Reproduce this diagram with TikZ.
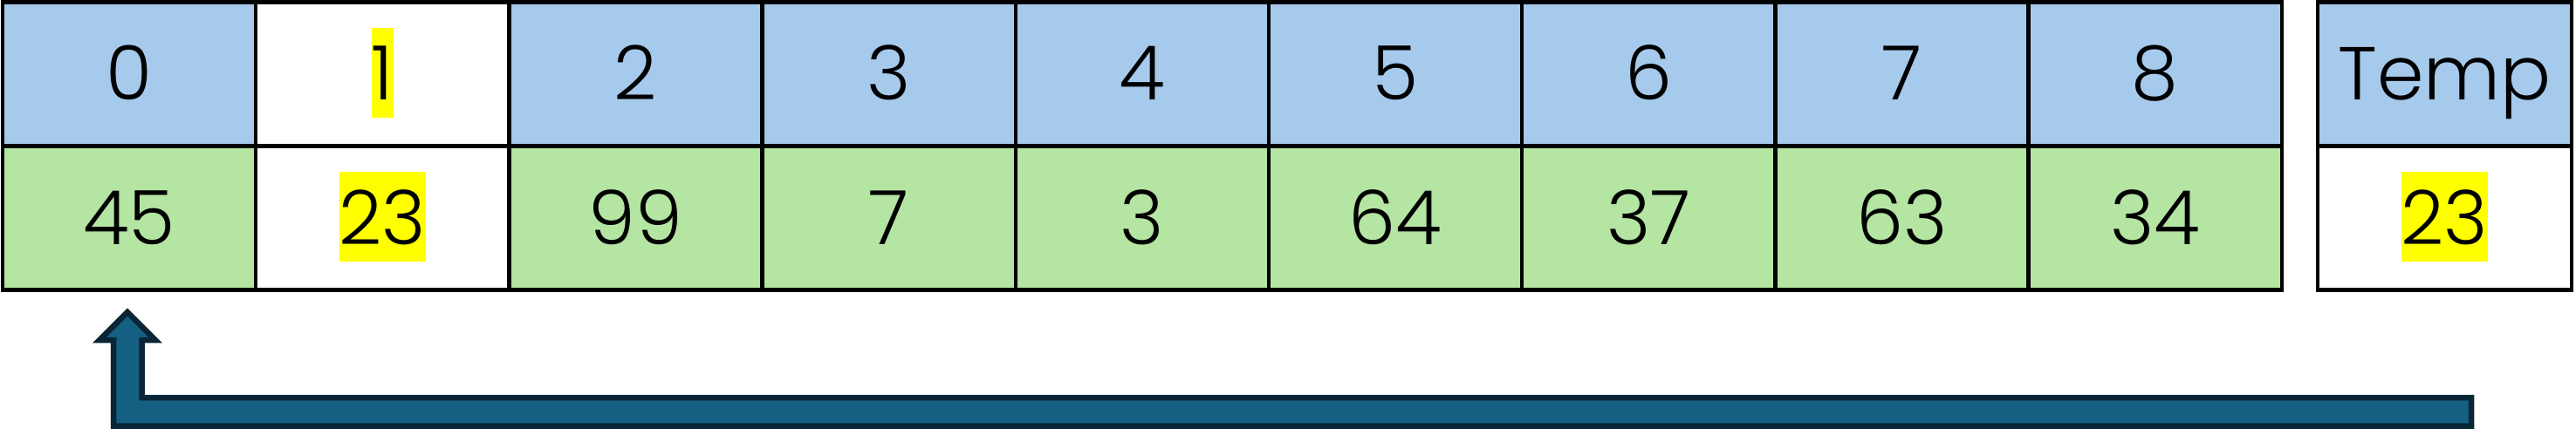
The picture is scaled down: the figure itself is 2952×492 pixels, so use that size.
\documentclass[tikz,border=0pt]{standalone}
\usepackage{fontspec}
\setmainfont{Poppins Light}
\definecolor{hdrblue}{HTML}{A6CAEC}
\definecolor{valgreen}{HTML}{B4E5A2}
\definecolor{arrfill}{HTML}{156082}
\definecolor{arredge}{HTML}{0A2535}
\definecolor{hl}{HTML}{FFFF00}
\begin{document}
\begin{tikzpicture}[x=1pt,y=-1pt,
  cellbase/.style={draw=black,line width=4.5pt,minimum width=290.2pt,minimum height=165pt,inner sep=0pt,anchor=center},
  hdrcell/.style={cellbase,fill=hdrblue},
  valcell/.style={cellbase,fill=valgreen},
  whitecell/.style={cellbase,fill=white},
  plaintxt/.style={anchor=base,inner sep=0pt,font=\fontsize{86}{100}\selectfont},
  hltxt/.style={plaintxt,fill=hl,text height=83pt,text depth=20pt},
  blockarrow/.style={fill=arrfill,draw=arredge,line width=6.5pt,line join=miter}
]
\useasboundingbox (0,0) rectangle (2952,492);
\foreach \i/\val/\hs/\vs/\hts/\vts in {
  0/45/hdrcell/valcell/plaintxt/plaintxt,
  1/23/whitecell/whitecell/hltxt/hltxt,
  2/99/hdrcell/valcell/plaintxt/plaintxt,
  3/7/hdrcell/valcell/plaintxt/plaintxt,
  4/3/hdrcell/valcell/plaintxt/plaintxt,
  5/64/hdrcell/valcell/plaintxt/plaintxt,
  6/37/hdrcell/valcell/plaintxt/plaintxt,
  7/63/hdrcell/valcell/plaintxt/plaintxt,
  8/34/hdrcell/valcell/plaintxt/plaintxt} {
  \pgfmathsetmacro\cx{3+290.2*\i+145.1}
  \node[\hs] (h\i) at (\cx,85) {};
  \node[\vs] (v\i) at (\cx,250) {};
  \node[\hts] (ht\i) at (\cx,115) {\i};
  \node[\vts] (vt\i) at (\cx,280) {\val};
}
\node[cellbase,fill=hdrblue,minimum width=291pt] (th) at (2801.5,85) {};
\node[cellbase,fill=white,minimum width=291pt] (tv) at (2801.5,250) {};
\node[plaintxt] (tht) at (2801.5,115) {Temp};
\node[hltxt] (tvt) at (2801.5,280) {23};
\draw[blockarrow] (146,358) -- (178,390) -- (162.5,390) -- (162.5,456) -- (2832,456)
  -- (2832,488.5) -- (130,488.5) -- (130,390) -- (114,390) -- cycle;
\end{tikzpicture}
\end{document}
